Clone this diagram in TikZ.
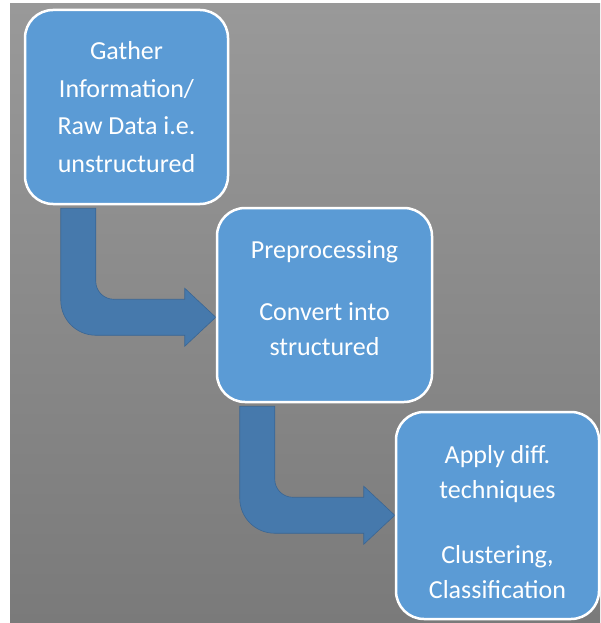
\documentclass[tikz,border=0pt]{standalone}
\usepackage{fontspec}
\setmainfont{Carlito}
\usetikzlibrary{calc}
\usetikzlibrary{backgrounds}
\definecolor{cbox}{RGB}{91, 155, 213}
\definecolor{carrow}{RGB}{70, 121, 172}
\definecolor{carrowedge}{RGB}{58, 102, 148}
\definecolor{cbgtop}{RGB}{153, 153, 153}
\definecolor{cbgbottom}{RGB}{122, 122, 122}

\tikzset{
  stage/.style={rectangle, rounded corners=28pt, draw=white, line width=2.5pt,
    fill=cbox, text=white, align=center, inner sep=0pt,
    font=\fontsize{26}{35}\selectfont},
  bend arrow/.style={fill=carrow, draw=carrowedge, line width=0.6pt},
}

% bent block arrow: down out of #1, then right into the side of #2
\newcommand{\bentarrow}[2]{
  \coordinate (tip) at ($(#2.west |- #1.south) + (0, 112)$);
  \begin{scope}[on background layer, shift={(tip)}]
    \filldraw [bend arrow] (-155, -109) -- (-155, -17)
      arc [start angle=180, end angle=90, radius=35]
      -- (-31, 18) -- (-31, 29) -- (0, 0) -- (-31, -29) -- (-31, -18)
      -- (-102, -18) arc [start angle=90, end angle=180, radius=18]
      -- (-120, -109) -- cycle;
  \end{scope}
}

\begin{document}
\begin{tikzpicture}[x=1pt, y=-1pt]
  \useasboundingbox (0, 0) rectangle (600, 623);
  \begin{scope}[on background layer]
    \shade [top color=cbgtop, bottom color=cbgbottom] (10, 4) rectangle (600, 623);
  \end{scope}

  \node [stage, minimum width=203pt, minimum height=194pt,
    font=\fontsize{26}{37.5}\selectfont] (gather) at (126.5, 107)
    {Gather\\Information/\\Raw Data i.e.\\unstructured};
  \node [stage, minimum width=215pt, minimum height=194pt, text depth=14pt]
    (prep) at (324.5, 305)
    {Preprocessing\\[27pt]Convert into\\structured};
  \node [stage, minimum width=203pt, minimum height=207pt, text height=166pt]
    (apply) at (497.5, 515.5)
    {Apply diff.\\techniques\\[30pt]Clustering,\\Classification};

  \bentarrow{gather}{prep}
  \bentarrow{prep}{apply}
\end{tikzpicture}
\end{document}
